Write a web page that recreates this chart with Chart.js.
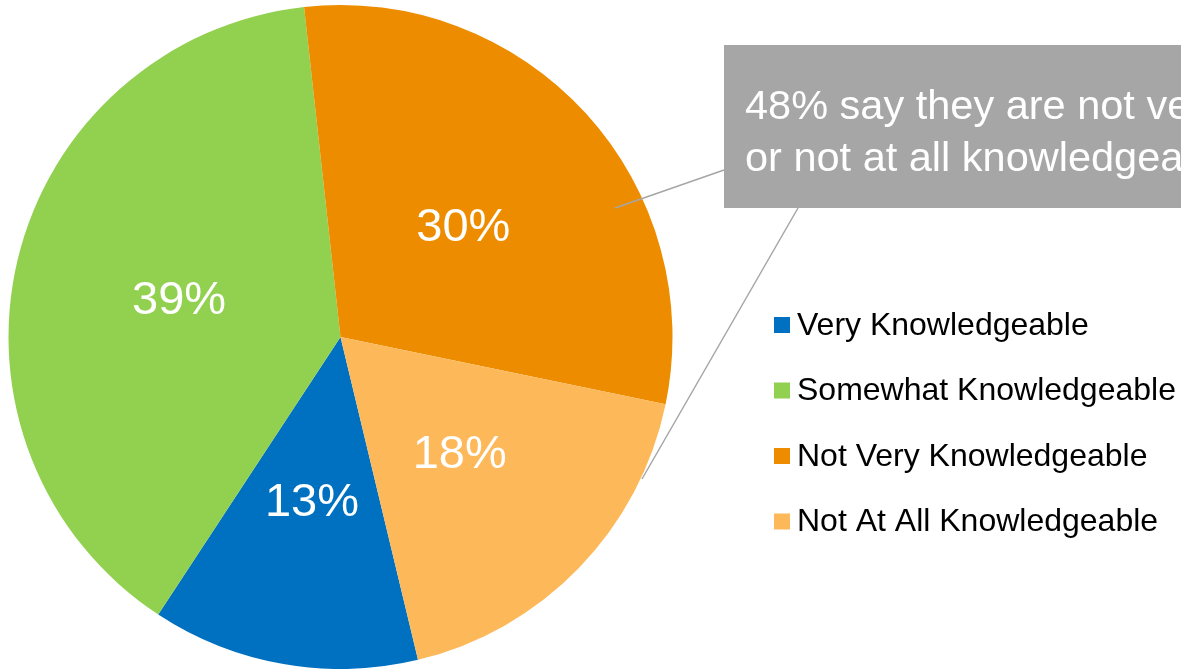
<!DOCTYPE html>
<html>
<head>
<meta charset="utf-8">
<script src="https://cdn.jsdelivr.net/npm/chart.js@4"></script>
<style>
html,body{margin:0;padding:0;background:#fff;}
#wrap{width:1181px;height:669px;position:relative;}
</style>
</head>
<body>
<div id="wrap"><canvas id="c" width="1181" height="669"></canvas></div>
<script>
const categories = ["Very Knowledgeable", "Somewhat Knowledgeable", "Not Very Knowledgeable", "Not At All Knowledgeable"];
const values = [13, 39, 30, 18];
const colors = ["#0070C0", "#92D050", "#EE8C00", "#FDB85A"];
const calloutLines = ["48% say they are not very", "or not at all knowledgeable"];

const FONT = '"Liberation Sans", Arial, sans-serif';

const overlay = {
  id: 'overlay',
  afterDatasetsDraw(chart) {
    const ctx = chart.ctx;
    const meta = chart.getDatasetMeta(0);
    ctx.save();
    // slice labels
    ctx.fillStyle = '#ffffff';
    ctx.font = '47px ' + FONT;
    ctx.textAlign = 'center';
    ctx.textBaseline = 'middle';
    meta.data.forEach((arc, i) => {
      const p = arc.tooltipPosition();
      ctx.fillText(values[i] + '%', p.x, p.y + 3);
    });
    // callout leader lines
    ctx.strokeStyle = '#A6A6A6';
    ctx.lineWidth = 1.5;
    ctx.beginPath();
    ctx.moveTo(615, 208); ctx.lineTo(724, 170);
    ctx.moveTo(642, 479); ctx.lineTo(798, 208);
    ctx.stroke();
    // callout box
    ctx.fillStyle = '#A6A6A6';
    ctx.fillRect(724, 45, 1181 - 724, 163);
    ctx.fillStyle = '#ffffff';
    ctx.font = '41.5px ' + FONT;
    ctx.textAlign = 'left';
    ctx.textBaseline = 'alphabetic';
    ctx.fillText(calloutLines[0], 745, 119);
    ctx.fillText(calloutLines[1], 745, 171);
    // legend
    ctx.font = '32px ' + FONT;
    ctx.textBaseline = 'middle';
    categories.forEach((label, i) => {
      const cy = 325 + i * 65.5;
      ctx.fillStyle = colors[i];
      ctx.fillRect(774, cy - 8, 16, 16);
      ctx.fillStyle = '#000000';
      ctx.fillText(label, 797, cy + 1);
    });
    ctx.restore();
  }
};

new Chart(document.getElementById('c'), {
  type: 'pie',
  data: {
    labels: categories,
    datasets: [{
      data: values,
      backgroundColor: colors,
      borderWidth: 0
    }]
  },
  options: {
    responsive: false,
    animation: false,
    rotation: 166.5,
    layout: { padding: { left: 8, top: 5, right: 508, bottom: 0 } },
    plugins: {
      legend: { display: false },
      tooltip: { enabled: false }
    }
  },
  plugins: [overlay]
});
</script>
</body>
</html>
